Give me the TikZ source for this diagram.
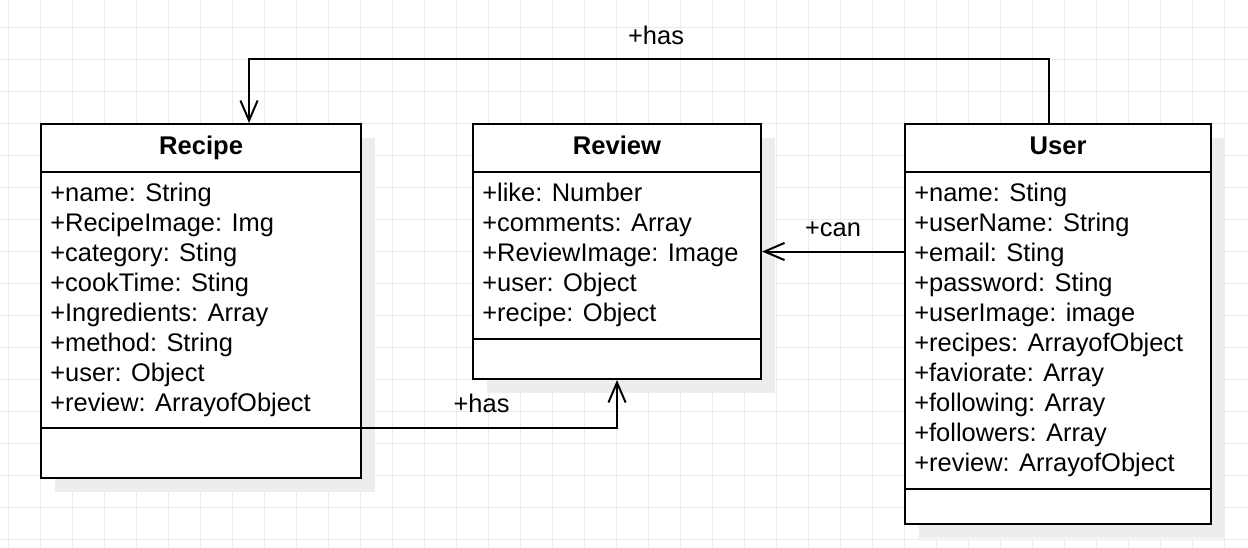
\documentclass[tikz,border=0pt]{standalone}
\usepackage{fontspec}
\setmainfont{Liberation Sans}
\usetikzlibrary{arrows.meta,shadows,calc}

\tikzset{
  classbox/.style={draw, line width=1.4pt, rectangle, fill=white, anchor=north west, inner sep=0pt,
    drop shadow={shadow xshift=0.35cm, shadow yshift=-0.35cm, fill=black!7, opacity=1}},
  classname/.style={anchor=base, inner sep=0pt, font=\fontsize{18.2}{22}\selectfont\bfseries},
  attr/.style={anchor=base west, inner sep=0pt, font=\fontsize{18.1}{22}\selectfont},
  divider/.style={line width=1.4pt},
  assoc/.style={->, line width=1.4pt},
  lbl/.style={inner sep=0pt, font=\fontsize{18.1}{22}\selectfont},
  gridline/.style={black!8, line width=0.6pt}
}

\begin{document}
\begin{tikzpicture}[x=0.025cm, y=-0.025cm, >={Straight Barb[length=5mm,width=4.3mm]}]
	\useasboundingbox (0,0) rectangle (1248,547);
	\fill[white] (0,0) rectangle (1248,547);
	% grid
	\foreach \gx in {8,40,...,1240} \draw[gridline] (\gx,0) -- (\gx,547);
	\foreach \gy in {27,59,...,539} \draw[gridline] (0,\gy) -- (1248,\gy);

	% classes
	\node (recipe) [classbox, minimum width=8cm, minimum height=8.85cm] at (40,123) {};
	\node (review) [classbox, minimum width=7.2cm, minimum height=6.375cm] at (472,123) {};
	\node (user)   [classbox, minimum width=7.65cm, minimum height=10cm] at (904,123) {};

	\node (recipe-name) [classname] at ($(recipe.north)+(0,31)$) {Recipe};
	\node (review-name) [classname] at ($(review.north)+(0,31)$) {Review};
	\node (user-name)   [classname] at ($(user.north)+(0,31)$) {User};

	\foreach \cls/\off in {recipe/49, recipe/305, review/49, review/216, user/49, user/366}
		\draw[divider] ($(\cls.north west)+(0,\off)$) -- ($(\cls.north east)+(0,\off)$);

	% attributes
	\foreach \field [count=\i] in {+name: String, +RecipeImage: Img, +category: Sting, +cookTime: Sting,
		+Ingredients: Array, +method: String, +user: Object, +review: ArrayofObject}
		\node (recipe-\i) [attr] at ($(recipe.north west)+(10,48+30*\i)$) {\field};
	\foreach \field [count=\i] in {+like: Number, +comments: Array, +ReviewImage: Image, +user: Object,
		+recipe: Object}
		\node (review-\i) [attr] at ($(review.north west)+(10,48+30*\i)$) {\field};
	\foreach \field [count=\i] in {+name: Sting, +userName: String, +email: Sting, +password: Sting,
		+userImage: image, +recipes: ArrayofObject, +faviorate: Array, +following: Array,
		+followers: Array, +review: ArrayofObject}
		\node (user-\i) [attr] at ($(user.north west)+(10,48+30*\i)$) {\field};

	% associations
	\draw[assoc] ($(user.north)+(-9,0)$) -- ++(0,-64) -| node[lbl, pos=0.25, above=0.33cm, xshift=0.175cm] {+has} ($(recipe.north)+(48,0)$);
	\draw[assoc] (user.west |- review.east) -- node[lbl, above=0.35cm] {+can} (review.east);
	\draw[assoc] ($(recipe.east)+(0,127)$) -| node[lbl, pos=0.25, above=0.37cm, xshift=-0.2cm] {+has} (review.south);
\end{tikzpicture}
\end{document}
